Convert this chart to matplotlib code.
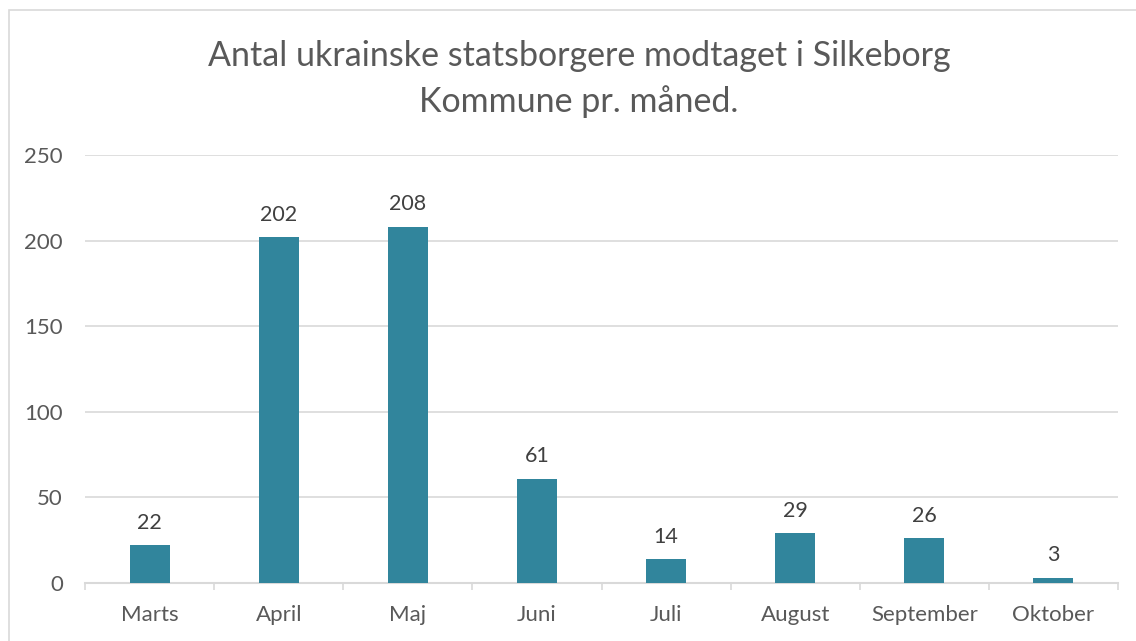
import matplotlib.pyplot as plt
import matplotlib.patches as patches
import numpy as np

# Data
months = ['Marts', 'April', 'Maj', 'Juni', 'Juli', 'August', 'September', 'Oktober']
counts = [22, 202, 208, 61, 14, 29, 26, 3]
yticks = [0, 50, 100, 150, 200, 250]

plt.rcParams['font.family'] = ['Lato', 'DejaVu Sans']

fig = plt.figure(figsize=(11.36, 6.41), dpi=100)
ax = fig.add_axes([85 / 1136, 1 - 583 / 641, (1118 - 85) / 1136, (583 - 155) / 641])

x = np.arange(len(months))
bars = ax.bar(x, counts, width=0.31, color='#31859C', zorder=3)

for xi, v in zip(x, counts):
    ax.annotate(str(v), (xi, v), xytext=(0, 9), textcoords='offset points',
                ha='center', va='bottom', fontsize=15.5, color='#404040')

ax.set_xlim(-0.5, len(months) - 0.5)
ax.set_ylim(0, 250)
ax.set_yticks(yticks)
ax.set_yticklabels([str(t) for t in yticks])
ax.yaxis.grid(True, color='#d9d9d9', linewidth=1.2, zorder=0)
ax.tick_params(axis='y', length=0, labelsize=16, labelcolor='#595959', pad=16)

ax.set_xticks(x)
ax.set_xticklabels(months)
ax.tick_params(axis='x', length=0, labelsize=16, labelcolor='#595959', pad=16)
ax.set_xticks(np.arange(len(months) + 1) - 0.5, minor=True)
ax.tick_params(axis='x', which='minor', length=5, color='#d9d9d9', width=1.2)

for s in ['top', 'right', 'left']:
    ax.spines[s].set_visible(False)
ax.spines['bottom'].set_color('#d9d9d9')
ax.spines['bottom'].set_linewidth(1.5)

fig.text(579 / 1136, 1 - 79 / 641, 'Antal ukrainske statsborgere modtaget i Silkeborg\nKommune pr. måned.',
         ha='center', va='center', fontsize=24.5, color='#595959', linespacing=1.5)

# outer chart border
fig.patches.append(patches.Rectangle((9 / 1136, -0.1), 1.2, 1.1 - 10 / 641,
                                     transform=fig.transFigure, fill=False,
                                     edgecolor='#d9d9d9', linewidth=1.2))

fig.savefig('out.png', dpi=100)
